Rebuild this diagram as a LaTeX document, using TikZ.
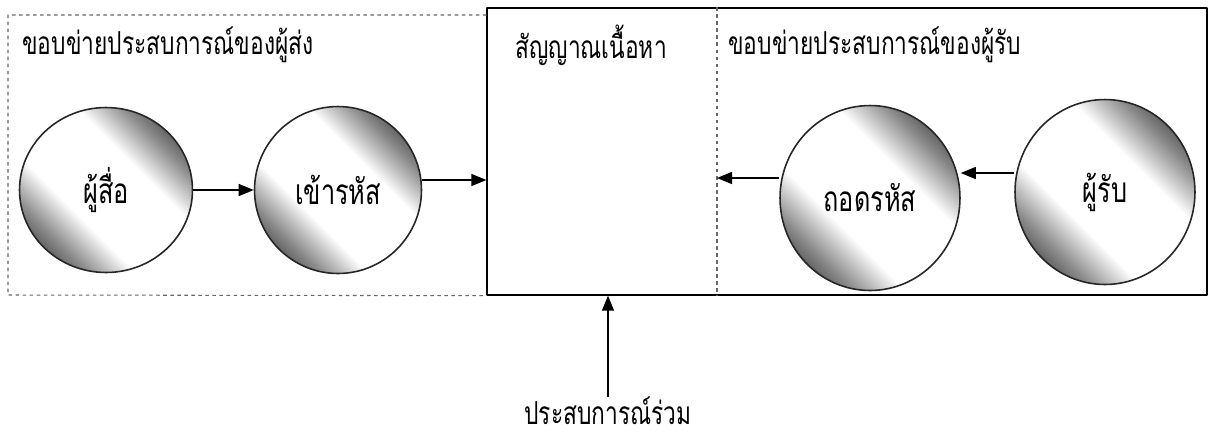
\documentclass[tikz,border=0pt]{standalone}
\usepackage{fontspec}
\newfontfamily\thaifont[Script=Thai,FakeStretch=0.72]{Loma}
\usetikzlibrary{shapes.geometric,arrows.meta}
\pgfdeclareverticalshading{ballband}{100bp}{color(0bp)=(black!60); color(25bp)=(black!60); color(29bp)=(black!45); color(39bp)=(white); color(61bp)=(white); color(71bp)=(black!45); color(75bp)=(black!60); color(100bp)=(black!60)}
\tikzset{
  ball/.style={ellipse,draw=black!85,line width=0.9pt,shading=ballband,shading angle=-45,
    font=\thaifont\fontsize{20}{22}\selectfont,inner sep=0pt},
  fence/.style={black!60,line width=0.6pt,dash pattern=on 2pt off 2pt},
  lbl/.style={font=\thaifont\fontsize{18}{22}\selectfont,inner sep=0pt,anchor=west},
  arr/.style={->,line width=0.8pt}
}
\begin{document}
\begin{tikzpicture}[x=0.02cm,y=-0.02cm,line join=round,>={Triangle[length=0.3cm,width=0.24cm]}]
\useasboundingbox (0,0) rectangle (1215,441);
% frames
\node[draw,line width=0.8pt,minimum width=14.4cm,minimum height=5.74cm,inner sep=0pt] (signal) at (847,151.5) {};
\draw[fence] (signal.west |- 0,15) -- (8,15) -- (8,295) -- (signal.south west);
\coordinate (div) at (717,0);
\draw[fence] (div |- signal.north) -- (div |- signal.south);
% zone labels
\node[lbl] (sendzone) at (22,45) {ขอบข่ายประสบการณ์ของผู้ส่ง};
\node[lbl] (msg) at (515,45) {สัญญาณเนื้อหา};
\node[lbl] (recvzone) at (728,45) {ขอบข่ายประสบการณ์ของผู้รับ};
\node[lbl,anchor=center] (shared) at (608,411) {ประสบการณ์ร่วม};
% the four balls
\node[ball,minimum width=3.46cm,minimum height=3.3cm] (source) at (106,190) {ผู้สื่อ};
\node[ball,minimum width=3.34cm,minimum height=3.34cm] (encode) at (338,190) {เข้ารหัส};
\node[ball,minimum width=3.6cm,minimum height=3.7cm] (decode) at (870,198) {ถอดรหัส};
\node[ball,minimum width=3.6cm,minimum height=3.7cm] (receiver) at (1105,192) {ผู้รับ};
% arrows
\coordinate (backin) at (717,178);
\draw[arr] (source) -- (encode);
\draw[arr] ([yshift=0.2cm]encode.east) -- ([yshift=0.2cm]encode.east -| signal.west);
\draw[arr] (decode.west |- backin) -- (backin);
\draw[arr] ([yshift=0.38cm]receiver.west) -- ([yshift=0.38cm]receiver.west -| decode.east);
\draw[arr] (shared.north) -- (shared.north |- signal.south);
\end{tikzpicture}
\end{document}
